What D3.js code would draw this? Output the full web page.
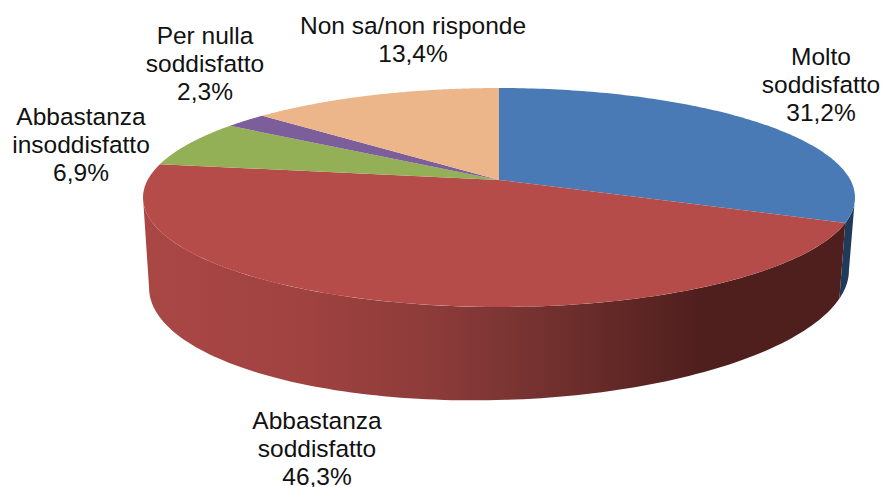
<!DOCTYPE html>
<html>
<head>
<meta charset="utf-8">
<script src="https://cdn.jsdelivr.net/npm/d3@7/dist/d3.min.js"></script>
<style>
  html, body { margin: 0; padding: 0; background: #fff; }
  text { font-family: "Liberation Sans", Arial, sans-serif; font-size: 24.5px; fill: #111; }
</style>
</head>
<body>
<div class="canvas"></div>
<script>
const categories = [
    ['Molto', 'soddisfatto'],
    ['Abbastanza', 'soddisfatto'],
    ['Abbastanza', 'insoddisfatto'],
    ['Per nulla', 'soddisfatto'],
    ['Non sa/non risponde']
];
const values = [31.2, 46.3, 6.9, 2.3, 13.4];
const topColors = ['#4a7ab5', '#b54c49', '#93b057', '#7b5e9a', '#edb68a'];

const svg = d3.select('.canvas').append('svg')
    .attr('width', 883)
    .attr('height', 487)
    .style('display', 'block')

// perspective of the disc: far side is squeezed, hub sits above the ellipse centre
const persp = 0.16
const hub = { x: 499, y: 180 }
const radiusX = d3.scaleLinear().domain([-1, 1]).range([-351.4, 351.4])
const radiusY = d3.scaleLinear().domain([-1, 1]).range([106.7, -106.7])

// rim at the base of the wall
const base = { scaleX: 0.983, scaleY: 1.105, dy: 79.7, skew: -0.025 }

const topPoint = (a) => {
    const u = Math.sin(a), v = Math.cos(a), w = 1 + persp * v
    return [hub.x + radiusX(u) / w, hub.y + radiusY(v) / w]
}
const basePoint = (a) => {
    const [x, y] = topPoint(a)
    const bx = hub.x + (x - hub.x) * base.scaleX
    return [bx, hub.y + (y - hub.y) * base.scaleY + base.dy + (bx - hub.x) * base.skew]
}

const sweep = (from, to) => d3.range(0, 121).map((i) => from + (to - from) * i / 120)
const line = d3.line()

const slices = d3.pie().sort(null)(values)

// only the part of the wall between the two side extremes faces the viewer
const frontStart = Math.acos(-persp)
const frontEnd = 2 * Math.PI - frontStart
const frontSlices = slices
    .map((d, i) => ({ i, from: Math.max(d.startAngle, frontStart), to: Math.min(d.endAngle, frontEnd) }))
    .filter((d) => d.to > d.from)

// wall shading
const defs = svg.append('defs')
const redWall = defs.append('linearGradient')
    .attr('id', 'wall1')
    .attr('gradientUnits', 'userSpaceOnUse')
    .attr('x1', 143).attr('x2', 855).attr('y1', 0).attr('y2', 0)
redWall.selectAll('stop')
    .data([[0, '#a94745'], [0.2, '#a24341'], [0.39, '#8f3c3a'], [0.5, '#7d3634'], [0.65, '#652a28'], [0.78, '#4f1f1e'], [1, '#4f1f1e']])
    .enter().append('stop')
    .attr('offset', (d) => d[0])
    .attr('stop-color', (d) => d[1])

const wallFill = ['#1f3a5a', 'url(#wall1)']

svg.append('g').selectAll('path')
    .data(frontSlices)
    .enter().append('path')
    .attr('fill', (d) => wallFill[d.i])
    .attr('d', (d) => {
        const angles = sweep(d.from, d.to)
        return line([...angles.map(topPoint), ...angles.slice().reverse().map(basePoint)]) + 'Z'
    })

svg.append('g').selectAll('path')
    .data(slices)
    .enter().append('path')
    .attr('fill', (d, i) => topColors[i])
    .attr('d', (d) => line([[hub.x, hub.y], ...sweep(d.startAngle, d.endAngle).map(topPoint)]) + 'Z')

// labels
const labelLayout = [
    { x: 821, y: 65 },
    { x: 317, y: 429 },
    { x: 81, y: 125 },
    { x: 205, y: 44 },
    { x: 413, y: 34 }
]
const lineHeight = 28

const labels = svg.append('g').selectAll('text')
    .data(slices)
    .enter().append('text')
    .attr('text-anchor', 'middle')

labels.selectAll('tspan')
    .data((d, i) => [...categories[i], `${values[i].toFixed(1).replace('.', ',')}%`].map((t) => ({ t, i })))
    .enter().append('tspan')
    .attr('x', (d) => labelLayout[d.i].x)
    .attr('y', (d, j) => labelLayout[d.i].y + j * lineHeight)
    .text((d) => d.t)
</script>
</body>
</html>
